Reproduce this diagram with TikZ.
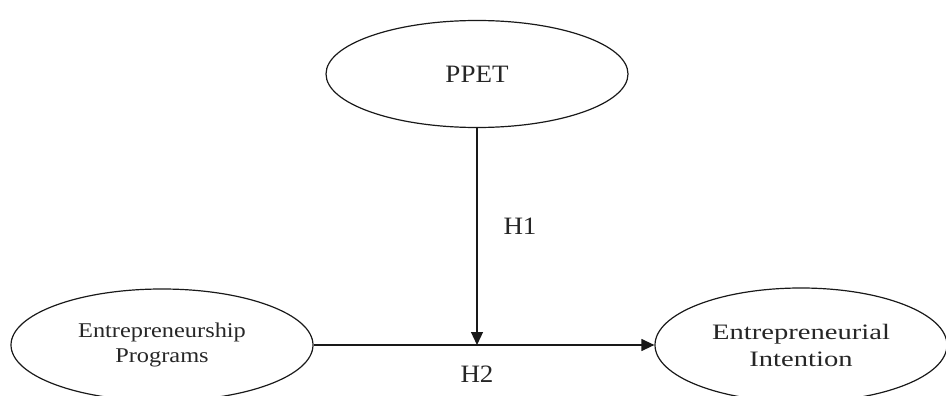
\documentclass[tikz,border=0pt]{standalone}
\usepackage{fontspec}
\setmainfont{Liberation Serif}
\newfontfamily\headfont[FakeStretch=1.08]{Liberation Serif}
\newfontfamily\leftfont[FakeStretch=1.16]{Liberation Serif}
\newfontfamily\rightfont[FakeStretch=1.3]{Liberation Serif}
\usetikzlibrary{shapes.geometric,arrows.meta}

\begin{document}
\begin{tikzpicture}[x=1pt,y=-1pt,
    construct/.style={draw=black!90, line width=1.2pt, ellipse, inner sep=0pt,
                      align=center, text=black!85},
    path/.style={draw=black!90, line width=1.2pt,
                 -{Triangle[length=13pt,width=12pt]}},
    hyp/.style={inner sep=0pt, text=black!85,
                font=\headfont\fontsize{25}{30}\selectfont}]
  \clip (0,0) rectangle (946,396);

  % latent constructs
  \node[construct, minimum width=302pt, minimum height=107pt,
        font=\headfont\fontsize{25}{30}\selectfont] (ppet) at (477,74) {PPET};
  \node[construct, minimum width=302pt, minimum height=112pt,
        font=\leftfont\fontsize{21}{25}\selectfont] (ep) at (162,345)
        {Entrepreneurship\\Programs};
  \node[construct, minimum width=292pt, minimum height=114pt,
        font=\rightfont\fontsize{22}{27}\selectfont] (ei) at (801,345)
        {Entrepreneurial\\Intention};

  % moderating effect meets the direct path
  \coordinate (meet) at (ppet.south |- ep.east);

  \draw[path] (ep.east) -- (ei.west);
  \draw[path] (ppet.south) -- (meet);

  % hypothesis labels
  \node[hyp] (h1) at (520,226) {H1};
  \node[hyp] (h2) at (477,374) {H2};
\end{tikzpicture}
\end{document}
